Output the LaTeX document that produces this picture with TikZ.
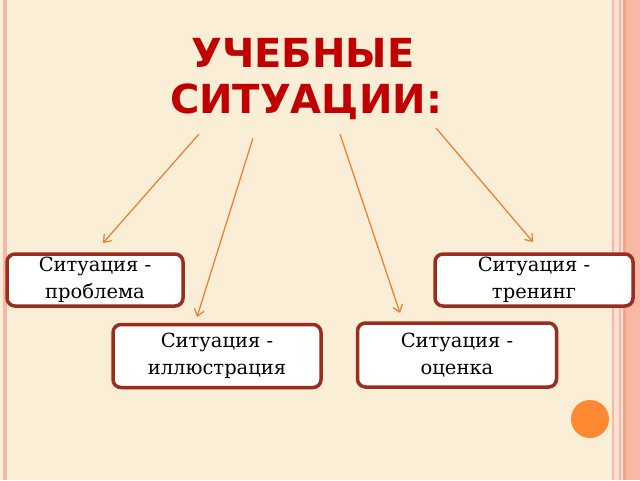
\documentclass[tikz,border=0pt]{standalone}
\usepackage{fontspec}
\setmainfont{DejaVu Serif}
\newfontfamily\titlefont{DejaVu Sans}
\usetikzlibrary{shadows,arrows.meta}
\definecolor{bgc}{HTML}{FAEFD6}
\definecolor{titlered}{HTML}{C00000}
\definecolor{boxborder}{HTML}{9B2D1F}
\definecolor{arroworange}{HTML}{F07A2A}
\definecolor{dotorange}{HTML}{FF8833}
\definecolor{stripeA}{HTML}{F7B9A5}
\definecolor{stripeB}{HTML}{FCE0D5}
\definecolor{stripeC}{HTML}{F4A488}
\tikzset{
  sitbox/.style={draw=boxborder, line width=3.5pt, rounded corners=8pt, fill=white,
    align=center, inner sep=0pt, font=\fontsize{19.5}{26.5}\selectfont,
    drop shadow={opacity=0.25, shadow xshift=1.5pt, shadow yshift=-1.5pt}},
  titletext/.style={text=titlered, font=\titlefont\bfseries\fontsize{40}{46}\selectfont, anchor=base, inner sep=0pt},
  sitarrow/.style={draw=arroworange, line width=1.2pt, -{Straight Barb[length=6.5pt,width=10pt]}}
}
\begin{document}
\begin{tikzpicture}[x=1pt,y=-1pt]
\useasboundingbox (0,0) rectangle (640,480);
\fill[bgc] (0,0) rectangle (640,480);
% left stripe
\fill[stripeA] (3,0) rectangle (7,480);
% right stripes
\fill[stripeA] (612,0) rectangle (613.5,480);
\fill[stripeB] (613.5,0) rectangle (619,480);
\fill[stripeA] (619,0) rectangle (621,480);
\fill[stripeB] (621,0) rectangle (623,480);
\fill[stripeC] (623,0) rectangle (626,480);
\fill[stripeA] (626,0) rectangle (640,480);
% title
\node[titletext] (t1) at (303,67) {УЧЕБНЫЕ};
\node[titletext] (t2) at (306,113) {СИТУАЦИИ:};
% boxes
\node[sitbox, minimum width=176pt, minimum height=52pt] (b1) at (95,280) {Ситуация -\\проблема};
\node[sitbox, minimum width=198pt, minimum height=52pt] (b2) at (534,280) {Ситуация -\\тренинг};
\node[sitbox, minimum width=208pt, minimum height=63pt] (b3) at (217,356) {Ситуация -\\иллюстрация};
\node[sitbox, minimum width=199pt, minimum height=64pt] (b4) at (457,355) {Ситуация -\\оценка};
% arrow ends
\coordinate (s1) at (199,134);
\coordinate (e1) at (103,243);
\coordinate (s2) at (253,138);
\coordinate (e2) at (197,317);
\coordinate (s3) at (340,134);
\coordinate (e3) at (400,313);
\coordinate (s4) at (436,128);
\coordinate (e4) at (533,242);
\draw[sitarrow] (s1) -- (e1);
\draw[sitarrow] (s2) -- (e2);
\draw[sitarrow] (s3) -- (e3);
\draw[sitarrow] (s4) -- (e4);
% dot
\fill[dotorange] (590,419) circle (19);
\end{tikzpicture}
\end{document}
